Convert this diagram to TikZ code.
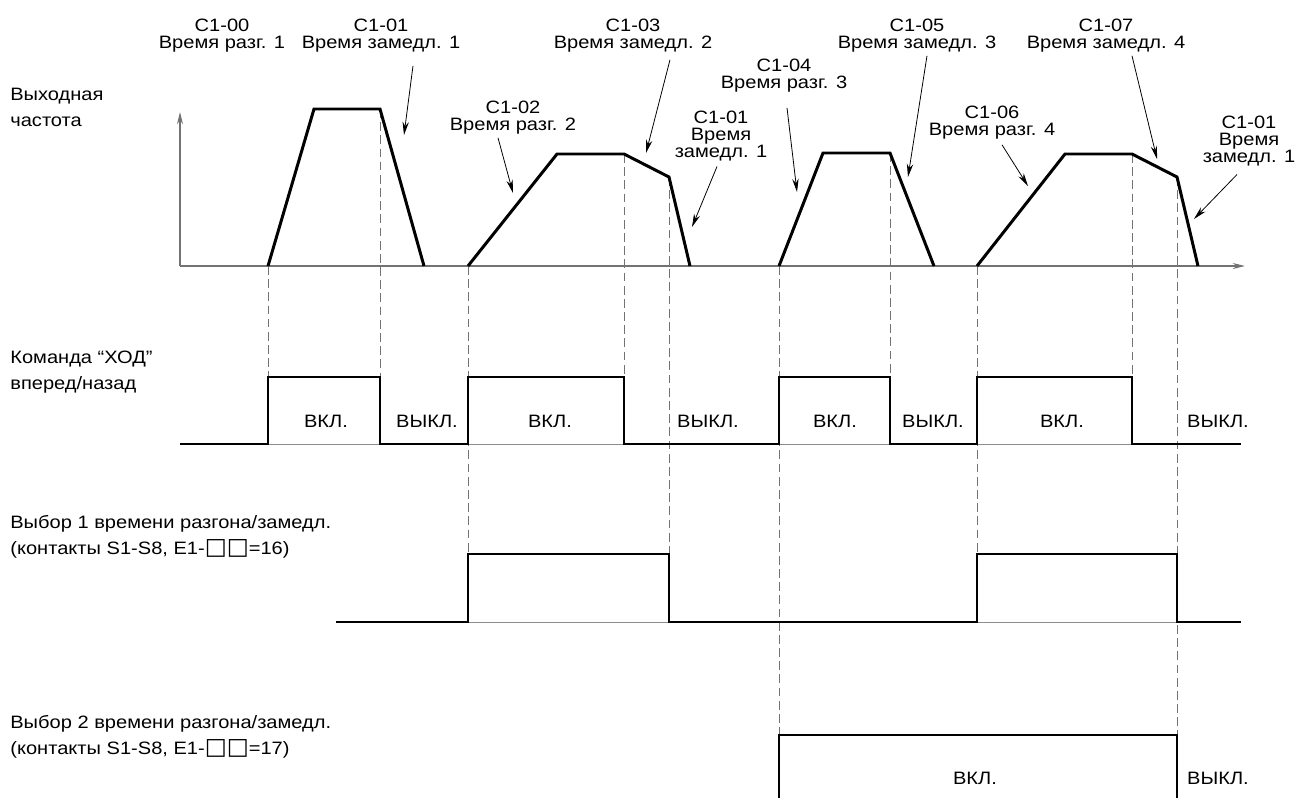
\documentclass[tikz,border=0pt]{standalone}
\usepackage{fontspec}
\setmainfont[FakeStretch=1.12]{Liberation Sans}
\newfontfamily\symfont[Scale=1.3]{DejaVu Sans}
\usetikzlibrary{arrows.meta}

\begin{document}
\begin{tikzpicture}[x=0.02cm, y=-0.02cm,
  every node/.style={inner sep=0pt, font=\fontsize{10.2}{9.6}\selectfont},
  param/.style={align=center, anchor=north},
  rowlabel/.style={align=left, anchor=north west, font=\fontsize{10.2}{14.8}\selectfont},
  onoff/.style={anchor=base},
  wave/.style={line width=1.7pt, line join=miter},
  sig/.style={line width=1.4pt},
  thinbase/.style={draw=black!45, line width=0.5pt},
  axis/.style={draw=black!55, line width=0.6pt, -{Stealth[length=7pt, width=3.4pt]}},
  guide/.style={draw=black!55, line width=0.5pt, dash pattern=on 5pt off 2.5pt},
  callout/.style={line width=0.45pt, -{Stealth[length=7.5pt, width=3.6pt]}}]
  \path[fill=white, use as bounding box] (0,0) rectangle (1296,798);

  \node[rowlabel] (freq) at (10,88) {Выходная\\частота};
  \node[rowlabel] (run) at (10,351) {Команда “ХОД”\\вперед/назад};
  \node[rowlabel] (sel1) at (10,515) {Выбор 1 времени разгона/замедл.\\(контакты S1-S8, E1-{\symfont □□}=16)};
  \node[rowlabel] (sel2) at (10,715) {Выбор 2 времени разгона/замедл.\\(контакты S1-S8, E1-{\symfont □□}=17)};

  \draw[axis] (180,266) -- (180,112);
  \draw[axis] (180,266) -- (1245,266);

  \foreach \x/\ya/\yb in {268/266/377, 380/109/377, 468/266/554, 624/154/377, 669/177/554,
      779/266/735, 890/153/377, 977/266/554, 1132/154/377, 1177/177/735}
    \draw[guide] (\x,\ya) -- (\x,\yb);

  \draw[wave] (268,266) -- (314,109) -- (380,109) -- (424,266);
  \draw[wave] (468,266) -- (557,154) -- (624,154) -- (669,177) -- (690,266);
  \draw[wave] (779,266) -- (823,153) -- (890,153) -- (934,266);
  \draw[wave] (977,266) -- (1065,154) -- (1132,154) -- (1177,177) -- (1198,266);

  \draw[thinbase] (180,444) -- (1241,444);
  \draw[sig] (180,444) -| (268,377) -| (380,444) -| (468,377) -| (624,444) -| (779,377)
    -| (890,444) -| (977,377) -| (1132,444) -- (1241,444);
  \draw[thinbase] (336,622) -- (1241,622);
  \draw[sig] (336,622) -| (468,554) -| (669,622) -| (977,554) -| (1177,622) -- (1241,622);
  \draw[sig] (779,800) |- (1177,735) -- (1177,800);

  \foreach \x/\t in {326/ВКЛ., 427/ВЫКЛ., 550/ВКЛ., 708/ВЫКЛ., 835/ВКЛ., 933/ВЫКЛ., 1062/ВКЛ., 1218/ВЫКЛ.}
    \node[onoff] (run\x) at (\x,427) {\t};
  \node[onoff] (sel2on) at (975,784) {ВКЛ.};
  \node[onoff] (sel2off) at (1218,784) {ВЫКЛ.};

  \node[param] (c100) at (222,19) {C1-00\\Время разг. 1};
  \node[param] (c101a) at (381,19) {C1-01\\Время замедл. 1};
  \node[param] (c102) at (513,101) {C1-02\\Время разг. 2};
  \node[param] (c103) at (633,19) {C1-03\\Время замедл. 2};
  \node[param] (c101b) at (721,111) {C1-01\\Время\\замедл. 1};
  \node[param] (c104) at (784,59) {C1-04\\Время разг. 3};
  \node[param] (c105) at (917,19) {C1-05\\Время замедл. 3};
  \node[param] (c106) at (992,106) {C1-06\\Время разг. 4};
  \node[param] (c107) at (1106,19) {C1-07\\Время замедл. 4};
  \node[param] (c101c) at (1249,116) {C1-01\\Время\\замедл. 1};

  \coordinate (p01a) at (404,135);
  \coordinate (p02) at (513,193);
  \coordinate (p03) at (646,153);
  \coordinate (p01b) at (692,227);
  \coordinate (p04) at (797,192);
  \coordinate (p05) at (908,177);
  \coordinate (p06) at (1028,186);
  \coordinate (p07) at (1157,159);
  \coordinate (p01c) at (1194,219);

  \draw[callout] (c101a.south) ++(32,13) -- (p01a);
  \draw[callout] (c102.south) ++(-15,3) -- (p02);
  \draw[callout] (c103.south) ++(37,7) -- (p03);
  \draw[callout] (c101b.south) ++(-4,5) -- (p01b);
  \draw[callout] (c104.south) ++(3,15) -- (p04);
  \draw[callout] (c105.south) ++(10,3) -- (p05);
  \draw[callout] (c106.south) ++(10,5) -- (p06);
  \draw[callout] (c107.south) ++(26,3) -- (p07);
  \draw[callout] (c101c.south) ++(-12,8) -- (p01c);
\end{tikzpicture}
\end{document}
